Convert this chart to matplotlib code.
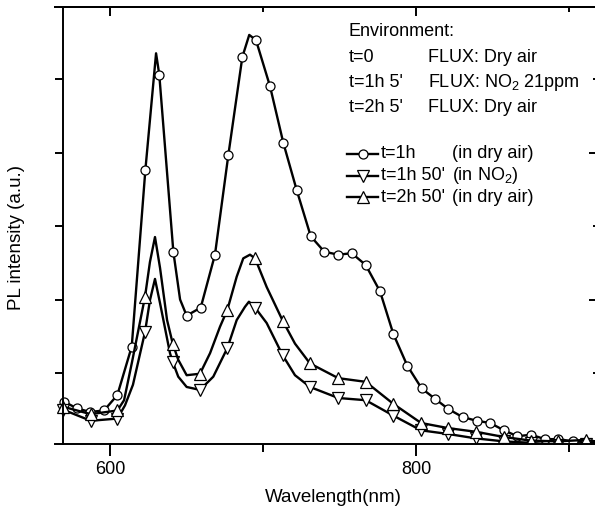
import matplotlib
matplotlib.use("Agg")
import matplotlib.pyplot as plt
from matplotlib.ticker import MultipleLocator, NullFormatter

plt.rcParams['font.family'] = ['Liberation Sans', 'DejaVu Sans']
plt.rcParams['mathtext.fontset'] = 'custom'
plt.rcParams['mathtext.rm'] = 'Liberation Sans'

# t=1h (in dry air), circles
o_wl = [570.1, 578.2, 586.9, 596.1, 604.8, 614.2, 623.1, 630.1, 632.2, 641.4,
        645.8, 650.1, 659.3, 668.6, 677.3, 686.5, 691.0, 695.4, 704.6, 713.3,
        722.0, 731.2, 740.1, 749.2, 758.0, 767.1, 776.5, 785.2, 794.3, 803.7,
        812.4, 821.1, 830.5, 839.7, 848.4, 857.5, 866.2, 875.2, 884.3, 893.0,
        902.4, 911.1, 917.0]
o_val = [0.61, 0.52, 0.47, 0.49, 0.70, 1.36, 3.76, 5.35, 5.06, 2.65,
         2.00, 1.78, 1.89, 2.61, 3.96, 5.30, 5.60, 5.53, 4.90, 4.13,
         3.49, 2.86, 2.65, 2.61, 2.63, 2.47, 2.11, 1.53, 1.10, 0.79,
         0.65, 0.51, 0.40, 0.35, 0.32, 0.22, 0.14, 0.16, 0.10, 0.10,
         0.07, 0.06, 0.07]
o_marks = [i for i in range(len(o_wl)) if i not in (7, 10, 16, 42)]

# t=1h 50' (in NO2), down triangles
d_wl = [569.5, 587.4, 604.8, 609.8, 615.0, 622.9, 626.1, 629.4, 632.7, 639.2,
        641.0, 644.6, 650.1, 658.8, 667.5, 676.7, 682.8, 688.2, 690.8, 694.8,
        702.4, 712.9, 720.9, 730.7, 749.2, 767.1, 785.2, 803.3, 821.1, 839.2,
        857.3, 875.0, 893.0, 911.1, 917.0]
d_val = [0.50, 0.35, 0.38, 0.56, 0.84, 1.56, 1.99, 2.28, 1.95, 1.27,
         1.15, 0.95, 0.81, 0.77, 0.95, 1.34, 1.72, 1.90, 1.97, 1.89,
         1.68, 1.24, 0.97, 0.81, 0.66, 0.63, 0.42, 0.22, 0.17, 0.11,
         0.07, 0.05, 0.02, 0.03, 0.05]
d_marks = [0, 1, 2, 5, 10, 13, 15, 19, 21, 23] + list(range(24, 34))

# t=2h 50' (in dry air), up triangles
u_wl = [569.5, 587.4, 604.8, 609.2, 614.4, 622.9, 626.1, 629.4, 632.7, 637.3,
        641.0, 644.6, 650.1, 658.8, 665.4, 671.9, 676.7, 682.8, 687.1, 691.5,
        694.8, 702.4, 712.9, 720.9, 730.7, 749.2, 767.1, 785.2, 803.3, 821.1,
        839.2, 857.3, 875.0, 893.0, 911.1, 917.0]
u_val = [0.54, 0.44, 0.49, 0.63, 1.15, 2.04, 2.51, 2.85, 2.43, 1.72,
         1.40, 1.18, 0.97, 0.99, 1.27, 1.63, 1.86, 2.31, 2.56, 2.61,
         2.56, 2.17, 1.71, 1.40, 1.13, 0.93, 0.88, 0.58, 0.32, 0.25,
         0.20, 0.13, 0.08, 0.07, 0.09, 0.07]
u_marks = [0, 1, 2, 5, 10, 13, 16, 20, 22, 24] + list(range(25, 35))

env_lines = [("t=0", "FLUX: Dry air"),
             ("t=1h 5'", "FLUX: NO$_\\mathregular{2}$ 21ppm"),
             ("t=2h 5'", "FLUX: Dry air")]
leg_time = ["t=1h", "t=1h 50'", "t=2h 50'"]
leg_env = ["(in dry air)", "(in NO$_\\mathregular{2}$)", "(in dry air)"]

W, H = 595, 516
fig = plt.figure(figsize=(W / 100, H / 100), dpi=100)
ax = fig.add_axes([55 / W, 72 / H, 543 / W, 437 / H])

lw = 1.7
sty = dict(color='black', lw=lw, mfc='white', mec='black', mew=0.9)
ax.plot(o_wl, o_val, marker='o', ms=6.5, markevery=o_marks, **sty)
ax.plot(d_wl, d_val, marker='v', ms=8, markevery=d_marks, **sty)
ax.plot(u_wl, u_val, marker='^', ms=8, markevery=u_marks, **sty)

ax.set_xlim(564.05, 918.95)
ax.set_ylim(0.034, 5.98)

ax.xaxis.set_major_locator(MultipleLocator(200))
ax.xaxis.set_minor_locator(MultipleLocator(100))
ax.yaxis.set_major_locator(MultipleLocator(2))
ax.yaxis.set_minor_locator(MultipleLocator(1))
ax.yaxis.set_major_formatter(NullFormatter())

for s in ax.spines.values():
    s.set_linewidth(1.4)
ax.spines['left'].set_position(('axes', 8 / 543))

ax.tick_params(axis='x', which='both', bottom=True, top=False, direction='out',
               width=1.4, labelsize=13, pad=4)
ax.tick_params(axis='x', which='major', length=8.5)
ax.tick_params(axis='x', which='minor', length=5.5)
ax.tick_params(axis='y', which='both', left=True, right=False, direction='out',
               width=1.4, length=5.8, labelleft=False)

# inward ticks on top and right
sec_x = ax.secondary_xaxis('top')
sec_x.xaxis.set_major_locator(MultipleLocator(200))
sec_x.xaxis.set_minor_locator(MultipleLocator(100))
sec_x.tick_params(which='both', direction='in', width=1.4, labeltop=False)
sec_x.tick_params(which='major', length=6.5)
sec_x.tick_params(which='minor', length=3.6)
sec_x.spines['top'].set_linewidth(1.4)
sec_y = ax.secondary_yaxis('right')
sec_y.yaxis.set_major_locator(MultipleLocator(2))
sec_y.yaxis.set_minor_locator(MultipleLocator(1))
sec_y.tick_params(which='both', direction='in', width=1.4, labelright=False)
sec_y.tick_params(which='major', length=6.5)
sec_y.tick_params(which='minor', length=3.6)


def frac(px, py):
    return (px - 55) / 543, (444 - py) / 437


ax.text(*frac(333, 497), "Wavelength(nm)", transform=ax.transAxes,
        ha='center', va='center', fontsize=13.5)
ax.text(*frac(17, 237), "PL intensity (a.u.)", transform=ax.transAxes,
        ha='center', va='center', rotation=90, fontsize=13.5)

fs = 13
ax.text(*frac(349, 36), "Environment:", transform=ax.transAxes,
        ha='left', va='baseline', fontsize=fs)
for k, (t, f) in enumerate(env_lines):
    yb = 62 + 25 * k
    ax.text(*frac(349, yb), t, transform=ax.transAxes, ha='left', va='baseline', fontsize=fs)
    ax.text(*frac(428, yb), f, transform=ax.transAxes, ha='left', va='baseline', fontsize=fs)

marks = ['o', 'v', '^']
sizes = [6.5, 8, 8]
for k in range(3):
    yl = 154 + 21.5 * k
    x0, y0 = frac(347, yl)
    xm, _ = frac(363, yl)
    x1, _ = frac(378, yl)
    ax.plot([x0, xm, x1], [y0, y0, y0], transform=ax.transAxes, clip_on=False,
            marker=marks[k], ms=sizes[k], markevery=[1], **sty)
    ax.text(*frac(381, yl), leg_time[k], transform=ax.transAxes,
            ha='left', va='center', fontsize=fs)
    ax.text(*frac(452, yl), leg_env[k], transform=ax.transAxes,
            ha='left', va='center', fontsize=fs)

fig.savefig("out.png", dpi=100)
